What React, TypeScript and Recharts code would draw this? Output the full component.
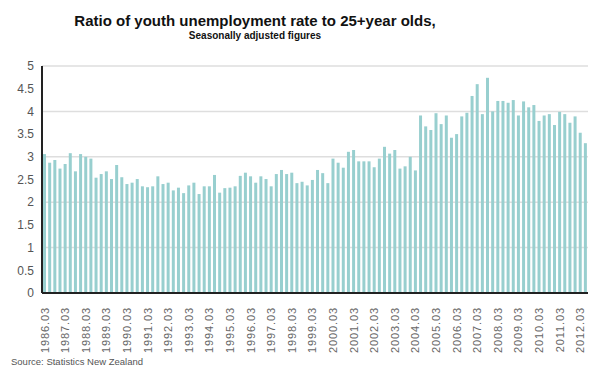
import React from 'react';
import { BarChart, Bar, XAxis, YAxis, CartesianGrid } from 'recharts';

// quarterly ratio, 1986 Q1 .. 2012 Q2
const years = [
  1986, 1987, 1988, 1989, 1990, 1991, 1992, 1993, 1994, 1995, 1996, 1997, 1998,
  1999, 2000, 2001, 2002, 2003, 2004, 2005, 2006, 2007, 2008, 2009, 2010, 2011, 2012
];
const months = ['03', '06', '09', '12'];

const ratio = [
  3.06, 2.87, 2.93, 2.74, 2.84, 3.08, 2.68, 3.06, 3.0, 2.96,
  2.54, 2.62, 2.68, 2.51, 2.82, 2.55, 2.40, 2.43, 2.51, 2.35,
  2.33, 2.35, 2.57, 2.40, 2.43, 2.26, 2.32, 2.20, 2.37, 2.43,
  2.18, 2.35, 2.35, 2.60, 2.21, 2.31, 2.32, 2.35, 2.58, 2.65,
  2.57, 2.43, 2.57, 2.51, 2.35, 2.62, 2.71, 2.62, 2.65, 2.42,
  2.45, 2.37, 2.49, 2.71, 2.64, 2.42, 2.96, 2.87, 2.76, 3.11,
  3.15, 2.90, 2.90, 2.90, 2.77, 2.96, 3.22, 3.07, 3.15, 2.74,
  2.79, 3.0, 2.70, 3.91, 3.67, 3.59, 3.96, 3.72, 3.91, 3.42,
  3.50, 3.89, 3.97, 4.34, 4.60, 3.94, 4.74, 4.0, 4.23, 4.23,
  4.19, 4.25, 3.91, 4.22, 4.09, 4.14, 3.79, 3.91, 3.94, 3.70,
  3.99, 3.94, 3.75, 3.89, 3.53, 3.30
];

const quarters = years.flatMap((y) => months.map((m) => `${y}.${m}`)).slice(0, ratio.length);
const yTicks = [0, 0.5, 1, 1.5, 2, 2.5, 3, 3.5, 4, 4.5, 5];

const data = quarters.map((q, i) => ({ q, ratio: ratio[i] }));

const FONT = '"Liberation Sans", Arial, sans-serif';

const QuarterTick = (props: any) => {
  const { x, y, payload } = props;
  const px = x + 4;
  const py = y + 6;
  return (
    <text
      x={px}
      y={py}
      transform={`rotate(-90, ${px}, ${py})`}
      textAnchor="end"
      fontSize={11}
      letterSpacing={0.9}
      fill="#666"
      fontFamily={FONT}
    >
      {payload.value}
    </text>
  );
};

export default function App() {
  return (
    <div style={{ position: 'absolute', left: 0, top: 0, width: 590, height: 372, background: '#fff' }}>
      <svg width={590} height={372} style={{ position: 'absolute', left: 0, top: 0 }}>
        <text x={255} y={26} textAnchor="middle" fontSize={15} fontWeight="bold" fill="#111" fontFamily={FONT}>
          Ratio of youth unemployment rate to 25+year olds,
        </text>
        <text x={255} y={39} textAnchor="middle" fontSize={10} fontWeight="bold" fill="#111" fontFamily={FONT}>
          Seasonally  adjusted figures
        </text>
        <text x={11} y={365} fontSize={9.5} fill="#555" fontFamily={FONT}>
          Source: Statistics New Zealand
        </text>
      </svg>
      <div style={{ position: 'absolute', left: 0, top: 0 }}>
        <BarChart
          width={590}
          height={372}
          data={data}
          margin={{ top: 66, right: 2, bottom: 19, left: 0 }}
          barCategoryGap="20%"
        >
          <CartesianGrid vertical={false} stroke="#dedede" strokeWidth={1.5} />
          <XAxis
            dataKey="q"
            interval={3}
            tickLine={false}
            axisLine={{ stroke: '#222', strokeWidth: 2 }}
            height={60}
            tick={<QuarterTick />}
          />
          <YAxis
            domain={[0, 5]}
            ticks={yTicks}
            width={42}
            tickLine={false}
            axisLine={{ stroke: '#222', strokeWidth: 2 }}
            tick={{ fontSize: 12, fill: '#555', fontFamily: FONT }}
          />
          <Bar dataKey="ratio" fill="#98cfcf" isAnimationActive={false} />
        </BarChart>
      </div>
    </div>
  );
}
